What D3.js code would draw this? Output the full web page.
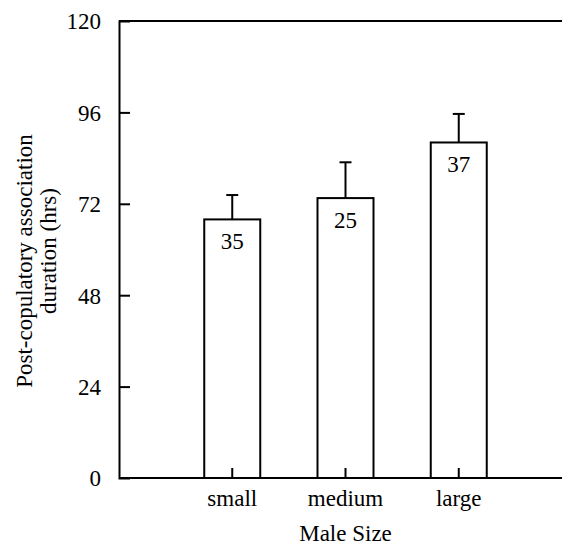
<!DOCTYPE html>
<html><head><meta charset="utf-8">
<script src="https://cdn.jsdelivr.net/npm/d3@7"></script>
<style>
html,body{margin:0;padding:0;background:#fff;}
</style></head>
<body>
<svg id="c" width="562" height="546"></svg>
<script>
const categories = ["small", "medium", "large"];
const means = [67.9, 73.5, 88.1];
const errors = [6.4, 9.4, 7.5];
const sampleSizes = [35, 25, 37];
const yTicks = [0, 24, 48, 72, 96, 120];

(function () {
const W = 562, H = 546;
const mLeft = 119, mTop = 21, mBottom = 478;
const FONT = "'Liberation Serif'";
const FS = "23px";
const svg = d3.select("#c");

const y = d3.scaleLinear().domain([0, 120]).range([mBottom, mTop]);
const x = d3.scaleLinear().domain([0, 4]).range([mLeft, mLeft + 453]);
const barW = 56;

svg.append("line").attr("x1", mLeft).attr("x2", W).attr("y1", y(120)).attr("y2", y(120))
  .attr("stroke", "#000").attr("stroke-width", 2);
svg.append("line").attr("x1", mLeft).attr("x2", W).attr("y1", y(0)).attr("y2", y(0))
  .attr("stroke", "#000").attr("stroke-width", 2);

const yAxis = d3.axisLeft(y).tickValues(yTicks).tickSize(-11).tickPadding(18).tickFormat(d3.format("d"));
const gy = svg.append("g").attr("transform", `translate(${mLeft},0)`).call(yAxis);
gy.attr("font-family", null).attr("font-size", null);
gy.select(".domain").attr("stroke", "#000").attr("stroke-width", 2);
gy.selectAll(".tick line").attr("stroke", "#000").attr("stroke-width", 2);
gy.selectAll(".tick text").style("font-family", FONT).style("font-size", FS).attr("fill", "#000").attr("dy", "0.34em");
gy.selectAll(".tick").filter(d => d === 120 || d === 0).select("line").remove();

const idx = categories.map((c, i) => i);
svg.selectAll("rect.bar").data(idx).enter().append("rect")
  .attr("x", i => x(i + 1) - barW / 2)
  .attr("y", i => y(means[i]))
  .attr("width", barW)
  .attr("height", i => y(0) - y(means[i]))
  .attr("fill", "#fff").attr("stroke", "#000").attr("stroke-width", 2);

svg.selectAll("line.err").data(idx).enter().append("line")
  .attr("x1", i => x(i + 1)).attr("x2", i => x(i + 1))
  .attr("y1", i => y(means[i])).attr("y2", i => y(means[i] + errors[i]))
  .attr("stroke", "#000").attr("stroke-width", 2);
svg.selectAll("line.cap").data(idx).enter().append("line")
  .attr("x1", i => x(i + 1) - 6).attr("x2", i => x(i + 1) + 6)
  .attr("y1", i => y(means[i] + errors[i])).attr("y2", i => y(means[i] + errors[i]))
  .attr("stroke", "#000").attr("stroke-width", 2);

svg.selectAll("line.xt").data(idx).enter().append("line")
  .attr("x1", i => x(i + 1)).attr("x2", i => x(i + 1))
  .attr("y1", y(0)).attr("y2", y(0) - 10)
  .attr("stroke", "#000").attr("stroke-width", 2);

function txt(sel) { return sel.style("font-family", FONT).style("font-size", FS).attr("fill", "#000"); }

txt(svg.selectAll("text.n").data(idx).enter().append("text")
  .attr("x", i => x(i + 1)).attr("y", i => y(means[i]) + 30)
  .attr("text-anchor", "middle"))
  .text(i => sampleSizes[i]);

txt(svg.selectAll("text.cat").data(idx).enter().append("text")
  .attr("x", i => x(i + 1)).attr("y", 506)
  .attr("text-anchor", "middle"))
  .text(i => categories[i]);

txt(svg.append("text").attr("x", x(2)).attr("y", 541).attr("text-anchor", "middle"))
  .text("Male Size");
const yl = txt(svg.append("text").attr("transform", `rotate(-90)`)
  .attr("text-anchor", "middle"));
yl.append("tspan").attr("x", -261).attr("y", 32).text("Post-copulatory association");
yl.append("tspan").attr("x", -251).attr("y", 56).text("duration (hrs)");
})();
</script>
</body></html>
